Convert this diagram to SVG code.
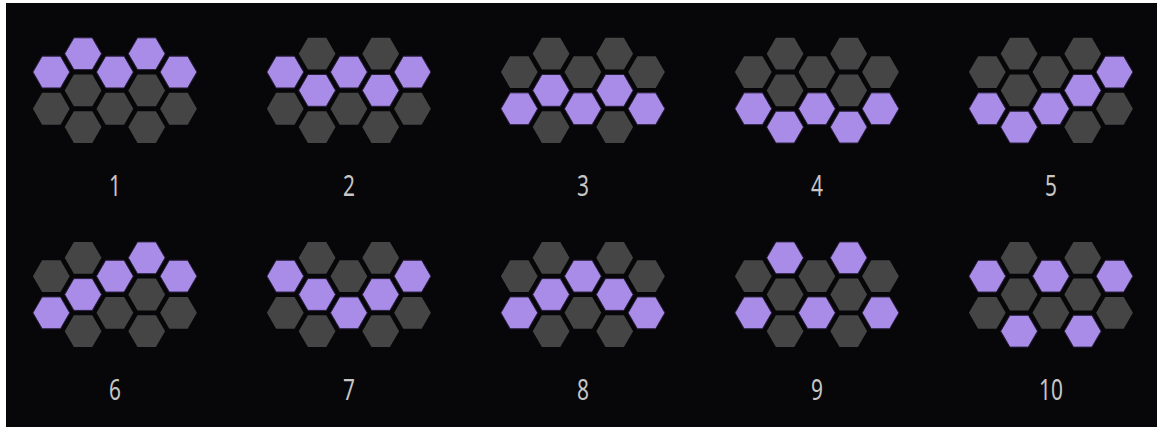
<svg xmlns="http://www.w3.org/2000/svg" width="1157" height="427" viewBox="0 0 1157 427">
<style>
.p{fill:#a98be8;stroke:#2a2040;stroke-width:1}
.d{fill:#454545}
.lbl{font-family:"Noto Sans","DejaVu Sans",sans-serif;font-size:29px;fill:#c6c6c6;text-anchor:middle}
</style>
<defs>
<polygon id="h" points="-18.4,0 -9.2,-15.9 9.2,-15.9 18.4,0 9.2,15.9 -9.2,15.9"/>
</defs>
<rect x="0" y="0" width="1157" height="427" fill="#ffffff"/>
<rect x="6" y="3" width="1151" height="424" fill="#070709"/>

<g id="pattern-1" transform="translate(51.3,53.7)">
<use href="#h" x="0" y="18.35" class="p"/><use href="#h" x="0" y="55.05" class="d"/>
<use href="#h" x="31.8" y="0" class="p"/><use href="#h" x="31.8" y="36.7" class="d"/><use href="#h" x="31.8" y="73.4" class="d"/>
<use href="#h" x="63.6" y="18.35" class="p"/><use href="#h" x="63.6" y="55.05" class="d"/>
<use href="#h" x="95.4" y="0" class="p"/><use href="#h" x="95.4" y="36.7" class="d"/><use href="#h" x="95.4" y="73.4" class="d"/>
<use href="#h" x="127.2" y="18.35" class="p"/><use href="#h" x="127.2" y="55.05" class="d"/>
<text class="lbl" transform="translate(63.6,142.3) scale(0.72,1)">1</text>
</g>

<g id="pattern-2" transform="translate(285.3,53.7)">
<use href="#h" x="0" y="18.35" class="p"/><use href="#h" x="0" y="55.05" class="d"/>
<use href="#h" x="31.8" y="0" class="d"/><use href="#h" x="31.8" y="36.7" class="p"/><use href="#h" x="31.8" y="73.4" class="d"/>
<use href="#h" x="63.6" y="18.35" class="p"/><use href="#h" x="63.6" y="55.05" class="d"/>
<use href="#h" x="95.4" y="0" class="d"/><use href="#h" x="95.4" y="36.7" class="p"/><use href="#h" x="95.4" y="73.4" class="d"/>
<use href="#h" x="127.2" y="18.35" class="p"/><use href="#h" x="127.2" y="55.05" class="d"/>
<text class="lbl" transform="translate(63.6,142.3) scale(0.72,1)">2</text>
</g>

<g id="pattern-3" transform="translate(519.3,53.7)">
<use href="#h" x="0" y="18.35" class="d"/><use href="#h" x="0" y="55.05" class="p"/>
<use href="#h" x="31.8" y="0" class="d"/><use href="#h" x="31.8" y="36.7" class="p"/><use href="#h" x="31.8" y="73.4" class="d"/>
<use href="#h" x="63.6" y="18.35" class="d"/><use href="#h" x="63.6" y="55.05" class="p"/>
<use href="#h" x="95.4" y="0" class="d"/><use href="#h" x="95.4" y="36.7" class="p"/><use href="#h" x="95.4" y="73.4" class="d"/>
<use href="#h" x="127.2" y="18.35" class="d"/><use href="#h" x="127.2" y="55.05" class="p"/>
<text class="lbl" transform="translate(63.6,142.3) scale(0.72,1)">3</text>
</g>

<g id="pattern-4" transform="translate(753.3,53.7)">
<use href="#h" x="0" y="18.35" class="d"/><use href="#h" x="0" y="55.05" class="p"/>
<use href="#h" x="31.8" y="0" class="d"/><use href="#h" x="31.8" y="36.7" class="d"/><use href="#h" x="31.8" y="73.4" class="p"/>
<use href="#h" x="63.6" y="18.35" class="d"/><use href="#h" x="63.6" y="55.05" class="p"/>
<use href="#h" x="95.4" y="0" class="d"/><use href="#h" x="95.4" y="36.7" class="d"/><use href="#h" x="95.4" y="73.4" class="p"/>
<use href="#h" x="127.2" y="18.35" class="d"/><use href="#h" x="127.2" y="55.05" class="p"/>
<text class="lbl" transform="translate(63.6,142.3) scale(0.72,1)">4</text>
</g>

<g id="pattern-5" transform="translate(987.3,53.7)">
<use href="#h" x="0" y="18.35" class="d"/><use href="#h" x="0" y="55.05" class="p"/>
<use href="#h" x="31.8" y="0" class="d"/><use href="#h" x="31.8" y="36.7" class="d"/><use href="#h" x="31.8" y="73.4" class="p"/>
<use href="#h" x="63.6" y="18.35" class="d"/><use href="#h" x="63.6" y="55.05" class="p"/>
<use href="#h" x="95.4" y="0" class="d"/><use href="#h" x="95.4" y="36.7" class="p"/><use href="#h" x="95.4" y="73.4" class="d"/>
<use href="#h" x="127.2" y="18.35" class="p"/><use href="#h" x="127.2" y="55.05" class="d"/>
<text class="lbl" transform="translate(63.6,142.3) scale(0.72,1)">5</text>
</g>

<g id="pattern-6" transform="translate(51.3,257.8)">
<use href="#h" x="0" y="18.35" class="d"/><use href="#h" x="0" y="55.05" class="p"/>
<use href="#h" x="31.8" y="0" class="d"/><use href="#h" x="31.8" y="36.7" class="p"/><use href="#h" x="31.8" y="73.4" class="d"/>
<use href="#h" x="63.6" y="18.35" class="p"/><use href="#h" x="63.6" y="55.05" class="d"/>
<use href="#h" x="95.4" y="0" class="p"/><use href="#h" x="95.4" y="36.7" class="d"/><use href="#h" x="95.4" y="73.4" class="d"/>
<use href="#h" x="127.2" y="18.35" class="p"/><use href="#h" x="127.2" y="55.05" class="d"/>
<text class="lbl" transform="translate(63.6,142.3) scale(0.72,1)">6</text>
</g>

<g id="pattern-7" transform="translate(285.3,257.8)">
<use href="#h" x="0" y="18.35" class="p"/><use href="#h" x="0" y="55.05" class="d"/>
<use href="#h" x="31.8" y="0" class="d"/><use href="#h" x="31.8" y="36.7" class="p"/><use href="#h" x="31.8" y="73.4" class="d"/>
<use href="#h" x="63.6" y="18.35" class="d"/><use href="#h" x="63.6" y="55.05" class="p"/>
<use href="#h" x="95.4" y="0" class="d"/><use href="#h" x="95.4" y="36.7" class="p"/><use href="#h" x="95.4" y="73.4" class="d"/>
<use href="#h" x="127.2" y="18.35" class="p"/><use href="#h" x="127.2" y="55.05" class="d"/>
<text class="lbl" transform="translate(63.6,142.3) scale(0.72,1)">7</text>
</g>

<g id="pattern-8" transform="translate(519.3,257.8)">
<use href="#h" x="0" y="18.35" class="d"/><use href="#h" x="0" y="55.05" class="p"/>
<use href="#h" x="31.8" y="0" class="d"/><use href="#h" x="31.8" y="36.7" class="p"/><use href="#h" x="31.8" y="73.4" class="d"/>
<use href="#h" x="63.6" y="18.35" class="p"/><use href="#h" x="63.6" y="55.05" class="d"/>
<use href="#h" x="95.4" y="0" class="d"/><use href="#h" x="95.4" y="36.7" class="p"/><use href="#h" x="95.4" y="73.4" class="d"/>
<use href="#h" x="127.2" y="18.35" class="d"/><use href="#h" x="127.2" y="55.05" class="p"/>
<text class="lbl" transform="translate(63.6,142.3) scale(0.72,1)">8</text>
</g>

<g id="pattern-9" transform="translate(753.3,257.8)">
<use href="#h" x="0" y="18.35" class="d"/><use href="#h" x="0" y="55.05" class="p"/>
<use href="#h" x="31.8" y="0" class="p"/><use href="#h" x="31.8" y="36.7" class="d"/><use href="#h" x="31.8" y="73.4" class="d"/>
<use href="#h" x="63.6" y="18.35" class="d"/><use href="#h" x="63.6" y="55.05" class="p"/>
<use href="#h" x="95.4" y="0" class="p"/><use href="#h" x="95.4" y="36.7" class="d"/><use href="#h" x="95.4" y="73.4" class="d"/>
<use href="#h" x="127.2" y="18.35" class="d"/><use href="#h" x="127.2" y="55.05" class="p"/>
<text class="lbl" transform="translate(63.6,142.3) scale(0.72,1)">9</text>
</g>

<g id="pattern-10" transform="translate(987.3,257.8)">
<use href="#h" x="0" y="18.35" class="p"/><use href="#h" x="0" y="55.05" class="d"/>
<use href="#h" x="31.8" y="0" class="d"/><use href="#h" x="31.8" y="36.7" class="d"/><use href="#h" x="31.8" y="73.4" class="p"/>
<use href="#h" x="63.6" y="18.35" class="p"/><use href="#h" x="63.6" y="55.05" class="d"/>
<use href="#h" x="95.4" y="0" class="d"/><use href="#h" x="95.4" y="36.7" class="d"/><use href="#h" x="95.4" y="73.4" class="p"/>
<use href="#h" x="127.2" y="18.35" class="p"/><use href="#h" x="127.2" y="55.05" class="d"/>
<text class="lbl" transform="translate(63.6,142.3) scale(0.72,1)">10</text>
</g>
</svg>
